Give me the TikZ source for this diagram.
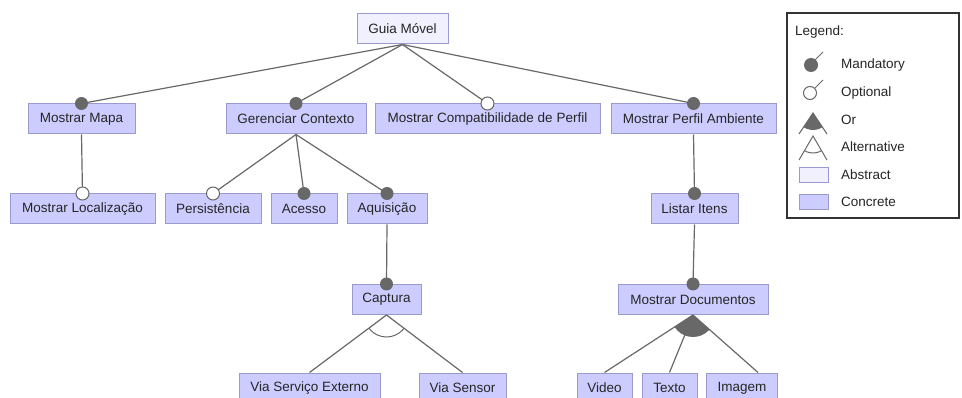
\documentclass[tikz,border=0pt]{standalone}
\usepackage{fontspec}
\setmainfont{Liberation Sans}
\usetikzlibrary{positioning}
\definecolor{concrete}{HTML}{CCCCFF}
\definecolor{abstractc}{HTML}{F0F0FF}
\definecolor{boxline}{HTML}{9A9AD0}
\definecolor{edgegray}{HTML}{686868}

\begin{document}
\begin{tikzpicture}[
    x=1pt, y=-1pt,
    feature/.style={draw=boxline, fill=concrete, line width=1pt, minimum height=30pt, inner sep=0pt, font=\fontsize{13.5}{16}\selectfont, text=black!85},
    abstractfeat/.style={feature, fill=abstractc},
    edge/.style={draw=edgegray, line width=1.2pt},
    mandatory/.style={fill=edgegray},
    optional/.style={draw=edgegray, fill=white, line width=1pt},
    legendbox/.style={draw=black!80, line width=1.5pt, fill=white, inner sep=0pt},
    legendtext/.style={anchor=west, inner sep=0pt, font=\fontsize{13.5}{16}\selectfont, text=black!85}
]
\useasboundingbox (0,0) rectangle (962,398);

% Features
\node[abstractfeat, minimum width=91pt] (guia) at (402.5,29) {Guia Móvel};
\node[feature, minimum width=107pt] (mapa) at (81.5,119) {Mostrar Mapa};
\node[feature, minimum width=140pt] (gerenciar) at (296,119) {Gerenciar Contexto};
\node[feature, minimum width=225pt] (compat) at (487.5,119) {Mostrar Compatibilidade de Perfil};
\node[feature, minimum width=165pt] (perfil) at (693.5,119) {Mostrar Perfil Ambiente};
\node[feature, minimum width=145pt] (local) at (82.5,209) {Mostrar Localização};
\node[feature, minimum width=96pt] (persist) at (213,209) {Persistência};
\node[feature, minimum width=66pt] (acesso) at (304,209) {Acesso};
\node[feature, minimum width=80pt] (aquis) at (387,209) {Aquisição};
\node[feature, minimum width=87pt] (listar) at (694.5,209) {Listar Itens};
\node[feature, minimum width=69pt] (captura) at (386.5,299.5) {Captura};
\node[feature, minimum width=150pt] (mdocs) at (693,299.5) {Mostrar Documentos};
\node[feature, minimum width=141pt] (viaserv) at (309.5,388) {Via Serviço Externo};
\node[feature, minimum width=87pt] (viasens) at (462.5,388) {Via Sensor};
\node[feature, minimum width=55pt] (video) at (604.5,388) {Video};
\node[feature, minimum width=55pt] (texto) at (669.5,388) {Texto};
\node[feature, minimum width=71pt] (imagem) at (742,388) {Imagem};
\coordinate (imgtop) at ([xshift=16pt]imagem.north);

% Edges
\draw[edge] (guia.south) -- (mapa.north);
\draw[edge] (guia.south) -- (gerenciar.north);
\draw[edge] (guia.south) -- (compat.north);
\draw[edge] (guia.south) -- (perfil.north);
\draw[edge] (mapa.south) -- (local.north);
\draw[edge] (gerenciar.south) -- (persist.north);
\draw[edge] (gerenciar.south) -- (acesso.north);
\draw[edge] (gerenciar.south) -- (aquis.north);
\draw[edge] (aquis.south) -- (captura.north);
\draw[edge] (perfil.south) -- (listar.north);
\draw[edge] (listar.south) -- (mdocs.north);
\draw[edge] (captura.south) -- (viaserv.north);
\draw[edge] (captura.south) -- (viasens.north);
\draw[edge] (mdocs.south) -- (video.north);
\draw[edge] (mdocs.south) -- (texto.north);
\draw[edge] (mdocs.south) -- (imgtop);

% Alternative and Or groups
\begin{scope}
  \clip (captura.south) -- (viaserv.north) -- (viasens.north) -- cycle;
  \draw[edge, line width=1pt] (captura.south) circle (22);
\end{scope}
\begin{scope}
  \clip (mdocs.south) -- (video.north) -- (imgtop) -- cycle;
  \fill[edgegray] (mdocs.south) circle (22);
\end{scope}

% Mandatory / optional markers
\fill[mandatory] (mapa.north) circle (6.5);
\fill[mandatory] (gerenciar.north) circle (6.5);
\draw[optional] (compat.north) circle (6.5);
\fill[mandatory] (perfil.north) circle (6.5);
\draw[optional] (local.north) circle (6.5);
\draw[optional] (persist.north) circle (6.5);
\fill[mandatory] (acesso.north) circle (6.5);
\fill[mandatory] (aquis.north) circle (6.5);
\fill[mandatory] (listar.north) circle (6.5);
\fill[mandatory] (captura.north) circle (6.5);
\fill[mandatory] (mdocs.north) circle (6.5);

% Legend
\node[legendbox, minimum width=172pt, minimum height=205pt] (legend) at (873,115.5) {};
\node[legendtext] (legtitle) at (795,32) {Legend:};
\draw[edge, line width=1pt] (815,60) -- (823,52);
\fill[mandatory] (811,65) circle (7);
\node[legendtext] (legmand) at (841,65) {Mandatory};
\draw[edge, line width=1pt] (815,88) -- (823,80);
\draw[optional] (810,93) circle (6.5);
\node[legendtext] (legopt) at (841,93) {Optional};
\begin{scope}
  \clip (813,113) -- (799,134) -- (827,134) -- cycle;
  \fill[edgegray] (813,113) circle (17);
\end{scope}
\draw[edge, line width=1pt] (799,134) -- (813,113) -- (827,134);
\node[legendtext] (legor) at (841,120) {Or};
\begin{scope}
  \clip (813,136) -- (799,160) -- (827,160) -- cycle;
  \draw[edge, line width=1pt] (813,136) circle (17);
\end{scope}
\draw[edge, line width=1pt] (799,160) -- (813,136) -- (827,160);
\node[legendtext] (legalt) at (841,147) {Alternative};
\node[abstractfeat, minimum width=29pt, minimum height=15pt] (swabs) at (813.5,175.5) {};
\node[legendtext] (legabs) at (841,175) {Abstract};
\node[feature, minimum width=29pt, minimum height=15pt] (swcon) at (813.5,202) {};
\node[legendtext] (legcon) at (841,202) {Concrete};

\end{tikzpicture}
\end{document}
